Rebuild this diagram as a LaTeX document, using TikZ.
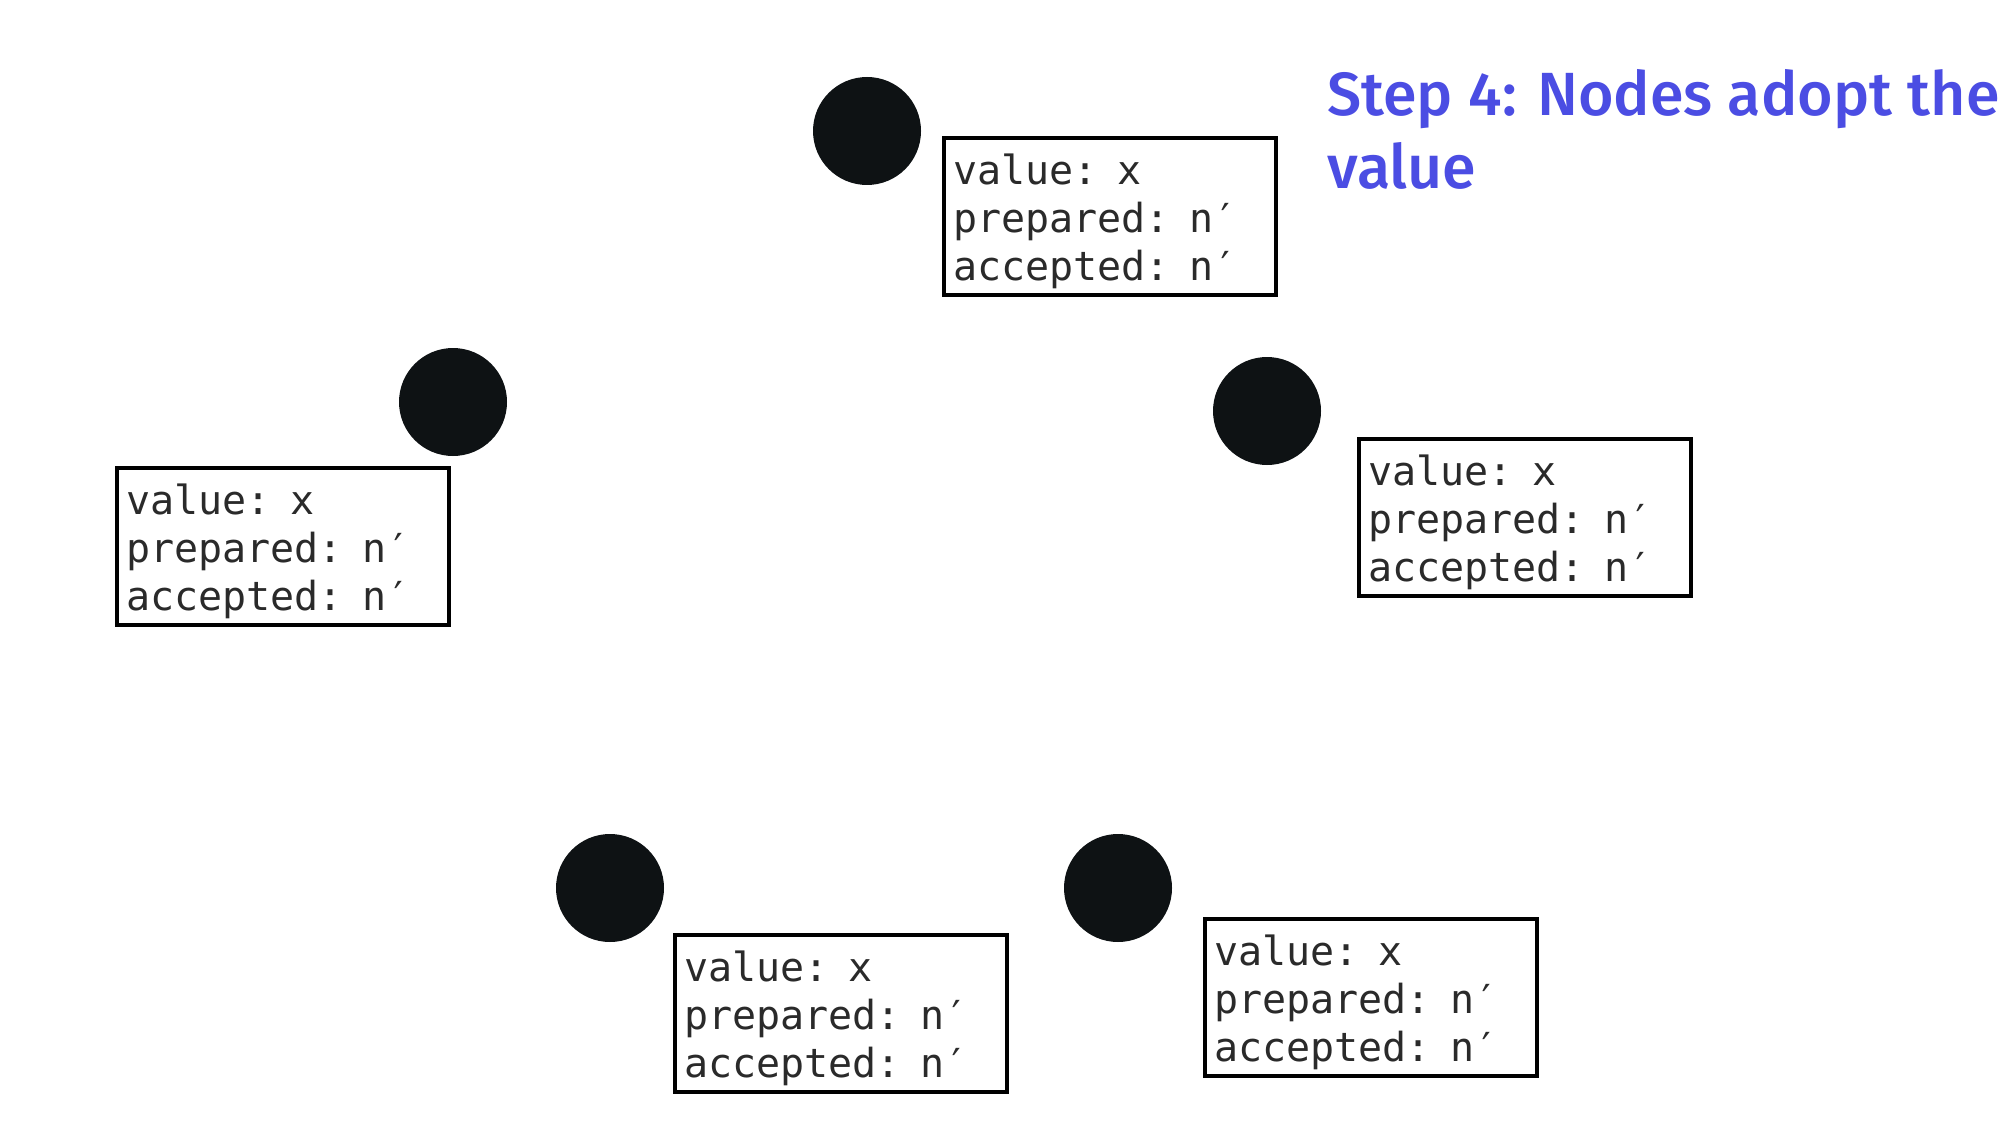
\documentclass[tikz,border=0pt]{standalone}
\usepackage{fontspec}
\setmonofont{DejaVu Sans Mono}
\newfontfamily\titlefont{Fira Sans Medium}
\definecolor{titleblue}{HTML}{4B4DE3}
\definecolor{dotblack}{HTML}{0E1214}
\definecolor{textgray}{HTML}{2A2A2A}
\begin{document}
\begin{tikzpicture}[x=0.5pt,y=-0.5pt,
  dot/.style={circle,fill=dotblack,draw=none,minimum size=54pt,inner sep=0pt},
  statebox/.style={draw=black,line width=2pt,anchor=north west,
    minimum width=166pt,minimum height=78.5pt,text width=157pt,
    inner xsep=4.5pt,inner ysep=0pt,align=left,
    font=\ttfamily\fontsize{20}{24}\selectfont,text=textgray,
    execute at begin node={\rule{0pt}{19.7pt}}},
  titletext/.style={anchor=north west,inner sep=0pt,align=left,text=titleblue,
    font=\titlefont\fontsize{30.5}{36.5}\selectfont}]
\useasboundingbox (0,0) rectangle (2006,1134);
\fill[white] (0,0) rectangle (2006,1134);
\node[titletext] (title) at (1327,69) {Step 4: Nodes adopt the\\value};
\node[dot] (n1) at (867,131) {};
\node[dot] (n2) at (453,402) {};
\node[dot] (n3) at (1267,411) {};
\node[dot] (n4) at (610,888) {};
\node[dot] (n5) at (1118,888) {};
\node[statebox] (b1) at (942,136) {value: x\\prepared: n′\\accepted: n′};
\node[statebox] (b2) at (115,466) {value: x\\prepared: n′\\accepted: n′};
\node[statebox] (b3) at (1357,437) {value: x\\prepared: n′\\accepted: n′};
\node[statebox] (b4) at (673,933) {value: x\\prepared: n′\\accepted: n′};
\node[statebox] (b5) at (1203,917) {value: x\\prepared: n′\\accepted: n′};
\end{tikzpicture}
\end{document}
